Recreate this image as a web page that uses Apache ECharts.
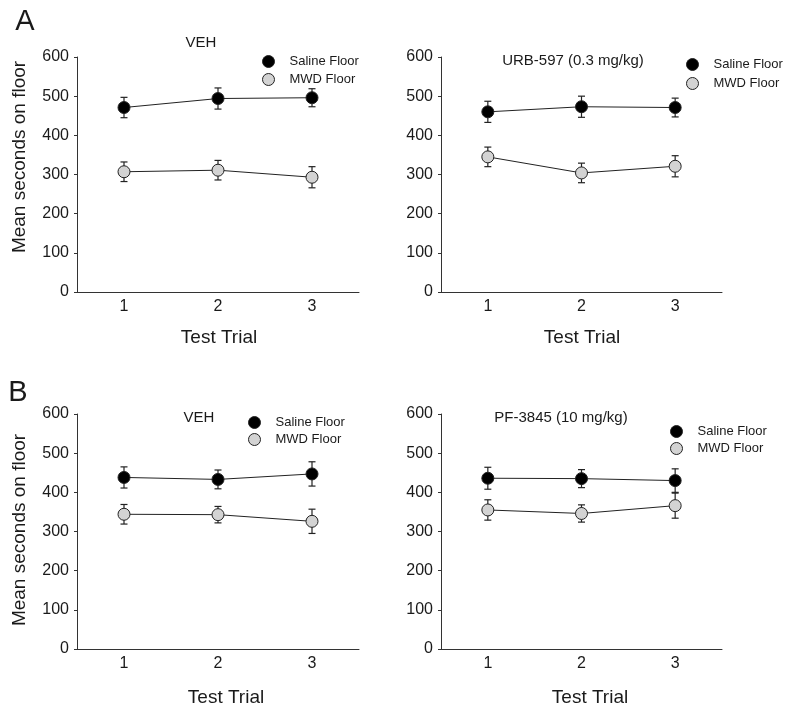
<!DOCTYPE html>
<html>
<head>
<meta charset="utf-8">
<script src="https://cdn.jsdelivr.net/npm/echarts@6/dist/echarts.min.js"></script>
<style>
html,body{margin:0;padding:0;background:#fff;}
#chart{width:800px;height:715px;}
</style>
</head>
<body>
<div id="chart"></div>
<script>
// ---- data ----
const categories = ['1', '2', '3'];
const yMin = 0, yMax = 600, yStep = 100;
const seriesNames = ['Saline Floor', 'MWD Floor'];
const panelTitles = ['VEH', 'URB-597 (0.3 mg/kg)', 'VEH', 'PF-3845 (10 mg/kg)'];

const vehA_saline = [471, 494, 496];
const vehA_salineSem = [26, 27, 23];
const vehA_mwd = [307, 311, 293];
const vehA_mwdSem = [25, 25, 27];

const urb_saline = [460, 473, 471];
const urb_salineSem = [27, 27, 24];
const urb_mwd = [345, 304, 321];
const urb_mwdSem = [25, 25, 27];

const vehB_saline = [438, 433, 447];
const vehB_salineSem = [27, 24, 31];
const vehB_mwd = [344, 343, 326];
const vehB_mwdSem = [25, 21, 31];

const pf_saline = [436, 435, 430];
const pf_salineSem = [28, 23, 30];
const pf_mwd = [355, 346, 366];
const pf_mwdSem = [26, 22, 32];

// ---- layout ----
const FONT = '"Liberation Sans", Arial, Helvetica, sans-serif';
const TXT = '#1a1a1a';
const grids = [
  {left: 77, top: 57, width: 282, height: 235},
  {left: 441, top: 57, width: 281, height: 235},
  {left: 77, top: 414, width: 282, height: 235},
  {left: 441, top: 414, width: 281, height: 235}
];
const panelData = [
  [[vehA_saline, vehA_salineSem], [vehA_mwd, vehA_mwdSem]],
  [[urb_saline, urb_salineSem], [urb_mwd, urb_mwdSem]],
  [[vehB_saline, vehB_salineSem], [vehB_mwd, vehB_mwdSem]],
  [[pf_saline, pf_salineSem], [pf_mwd, pf_mwdSem]]
];
const legendPos = [
  {left: 262, top: 55, gap: 5},
  {left: 686, top: 58, gap: 6},
  {left: 248, top: 416, gap: 4},
  {left: 670, top: 425, gap: 4}
];
const titlePos = [[201, 43], [573, 61], [199, 418], [561, 418]];
const xTitlePos = [[219, 338], [582, 338], [226, 698], [590, 698]];
const yTitlePos = [[20, 157], [20, 530]];

const fills = ['#000000', '#d3d3d3'];

const xAxes = [], yAxes = [], series = [], legends = [];
grids.forEach((g, i) => {
  xAxes.push({
    gridIndex: i, type: 'category', data: categories, boundaryGap: true,
    axisLine: {lineStyle: {color: '#333', width: 1}},
    axisTick: {alignWithLabel: true, length: 3, lineStyle: {color: '#333'}},
    axisLabel: {color: TXT, fontSize: 16, fontFamily: FONT, margin: 7},
    splitLine: {show: false}
  });
  yAxes.push({
    gridIndex: i, type: 'value', min: yMin, max: yMax, interval: yStep,
    axisLine: {show: true, lineStyle: {color: '#333', width: 1}},
    axisTick: {show: true, length: 3, lineStyle: {color: '#333'}},
    axisLabel: {color: TXT, fontSize: 16, fontFamily: FONT, margin: 8},
    splitLine: {show: false}
  });
  panelData[i].forEach((pair, s) => {
    const [means, sems] = pair;
    series.push({
      type: 'custom', name: seriesNames[s] + ' SEM', xAxisIndex: i, yAxisIndex: i,
      z: 1, silent: true,
      data: means.map((m, k) => [k, m, sems[k]]),
      encode: {x: 0, y: 1},
      renderItem: function (params, api) {
        const x = api.value(0), m = api.value(1), e = api.value(2);
        const top = api.coord([x, m + e]);
        const bot = api.coord([x, m - e]);
        const cw = 3.5;
        const st = {stroke: '#222', lineWidth: 1.2};
        return {type: 'group', children: [
          {type: 'line', shape: {x1: top[0], y1: top[1], x2: bot[0], y2: bot[1]}, style: st},
          {type: 'line', shape: {x1: top[0] - cw, y1: top[1], x2: top[0] + cw, y2: top[1]}, style: st},
          {type: 'line', shape: {x1: bot[0] - cw, y1: bot[1], x2: bot[0] + cw, y2: bot[1]}, style: st}
        ]};
      }
    });
    series.push({
      type: 'line', name: seriesNames[s], xAxisIndex: i, yAxisIndex: i, z: 3,
      data: means, symbol: 'circle', symbolSize: 12, showSymbol: true,
      lineStyle: {color: '#222', width: 1},
      itemStyle: {color: fills[s], borderColor: '#222', borderWidth: 1},
      emphasis: {disabled: true}, animation: false
    });
  });
  const lp = legendPos[i];
  legends.push({
    data: seriesNames.map((n, s) => ({name: n, icon: 'circle', itemStyle: {color: fills[s], borderColor: '#222', borderWidth: 1}})),
    orient: 'vertical', left: lp.left, top: lp.top, itemGap: lp.gap, padding: 0,
    itemWidth: 12, itemHeight: 12,
    textStyle: {color: TXT, fontSize: 13, fontFamily: FONT, padding: [0, 0, 0, 10]}
  });
});

const graphics = [];
function txt(text, x, y, size, rot) {
  graphics.push({
    type: 'text', x: x, y: y, rotation: rot || 0,
    style: {text: text, fill: TXT, font: size + 'px ' + FONT, textAlign: 'center', textVerticalAlign: 'middle'}
  });
}
titlePos.forEach((p, i) => txt(panelTitles[i], p[0], p[1], 15));
xTitlePos.forEach(p => txt('Test Trial', p[0], p[1], 19));
yTitlePos.forEach(p => txt('Mean seconds on floor', p[0], p[1], 19, Math.PI / 2));
txt('A', 25, 22, 29);
txt('B', 18, 393, 29);

const chart = echarts.init(document.getElementById('chart'), null, {renderer: 'canvas'});
chart.setOption({
  animation: false,
  backgroundColor: '#fff',
  grid: grids,
  xAxis: xAxes,
  yAxis: yAxes,
  legend: legends,
  series: series,
  graphic: graphics
});
</script>
</body>
</html>
